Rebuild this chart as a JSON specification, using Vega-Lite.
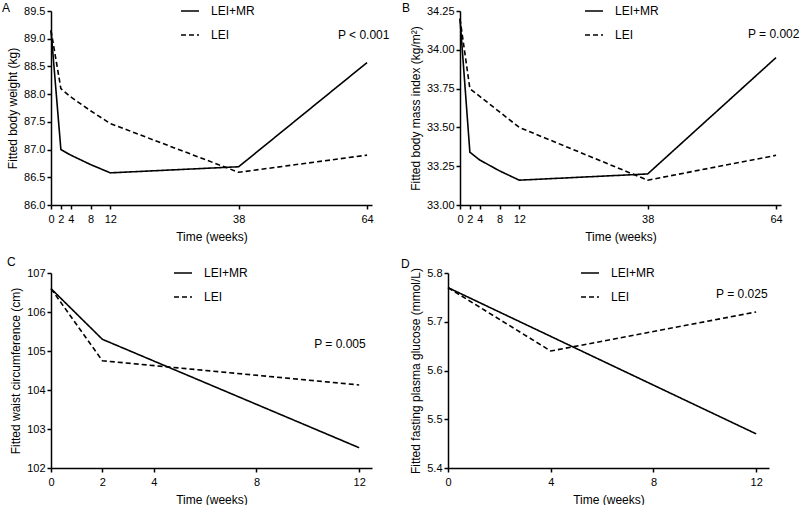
{
  "$schema": "https://vega.github.io/schema/vega-lite/v6.json",
  "padding": {"left": 2, "top": 1, "right": 5, "bottom": 2},
  "background": "white",
  "datasets": {
    "a": [
      {"group": "LEI+MR", "week": 0, "value": 89.15},
      {"group": "LEI+MR", "week": 2, "value": 87.0},
      {"group": "LEI+MR", "week": 4, "value": 86.9},
      {"group": "LEI+MR", "week": 8, "value": 86.73},
      {"group": "LEI+MR", "week": 12, "value": 86.58},
      {"group": "LEI+MR", "week": 38, "value": 86.69},
      {"group": "LEI+MR", "week": 64, "value": 88.57},
      {"group": "LEI", "week": 0, "value": 89.15},
      {"group": "LEI", "week": 2, "value": 88.1},
      {"group": "LEI", "week": 4, "value": 87.95},
      {"group": "LEI", "week": 8, "value": 87.7},
      {"group": "LEI", "week": 12, "value": 87.47},
      {"group": "LEI", "week": 38, "value": 86.59},
      {"group": "LEI", "week": 64, "value": 86.9}
    ],
    "b": [
      {"group": "LEI+MR", "week": 0, "value": 34.2},
      {"group": "LEI+MR", "week": 2, "value": 33.34},
      {"group": "LEI+MR", "week": 4, "value": 33.29},
      {"group": "LEI+MR", "week": 8, "value": 33.22},
      {"group": "LEI+MR", "week": 12, "value": 33.16},
      {"group": "LEI+MR", "week": 38, "value": 33.2},
      {"group": "LEI+MR", "week": 64, "value": 33.95},
      {"group": "LEI", "week": 0, "value": 34.2},
      {"group": "LEI", "week": 2, "value": 33.75},
      {"group": "LEI", "week": 4, "value": 33.7},
      {"group": "LEI", "week": 8, "value": 33.6},
      {"group": "LEI", "week": 12, "value": 33.5},
      {"group": "LEI", "week": 38, "value": 33.16},
      {"group": "LEI", "week": 64, "value": 33.32}
    ],
    "c": [
      {"group": "LEI+MR", "week": 0, "value": 106.6},
      {"group": "LEI+MR", "week": 2, "value": 105.3},
      {"group": "LEI+MR", "week": 12, "value": 102.52},
      {"group": "LEI", "week": 0, "value": 106.6},
      {"group": "LEI", "week": 2, "value": 104.75},
      {"group": "LEI", "week": 12, "value": 104.13}
    ],
    "d": [
      {"group": "LEI+MR", "week": 0, "value": 5.77},
      {"group": "LEI+MR", "week": 12, "value": 5.47},
      {"group": "LEI", "week": 0, "value": 5.77},
      {"group": "LEI", "week": 4, "value": 5.64},
      {"group": "LEI", "week": 12, "value": 5.72}
    ]
  },
  "config": {
    "font": "Liberation Sans",
    "view": {"stroke": null},
    "axis": {
      "grid": false,
      "domainColor": "black",
      "domainWidth": 1.5,
      "tickColor": "black",
      "tickWidth": 1.5,
      "tickSize": 4,
      "labelColor": "black",
      "labelFontSize": 11,
      "labelPadding": 2,
      "titleColor": "black",
      "titleFontSize": 12,
      "titleFontWeight": "normal",
      "titlePadding": 4,
      "labelFlush": false,
      "labelOverlap": false
    },
    "axisX": {"labelPadding": 4, "titlePadding": 7},
    "legend": {
      "labelFontSize": 12,
      "labelColor": "black",
      "symbolSize": 324,
      "symbolStrokeColor": "black",
      "symbolStrokeWidth": 1.5,
      "symbolType": "stroke",
      "labelOffset": 11,
      "rowPadding": 8,
      "padding": 0
    },
    "title": {"fontSize": 12, "fontWeight": "normal", "color": "black", "anchor": "start", "frame": "group"}
  },
  "resolve": {"scale": {"strokeDash": "independent"}, "legend": {"strokeDash": "independent"}},
  "spacing": 14,
  "vconcat": [
    {
      "spacing": 12,
      "resolve": {"scale": {"strokeDash": "independent"}, "legend": {"strokeDash": "independent"}},
      "hconcat": [
        {
          "width": 321, "height": 194,
          "title": {"text": "A", "dx": -49, "offset": -14},
          "encoding": {
            "x": {"field": "week", "type": "quantitative", "scale": {"domain": [0, 65], "nice": false}, "axis": {"values": [0, 2, 4, 8, 12, 38, 64], "title": "Time (weeks)"}},
            "y": {"field": "value", "type": "quantitative", "scale": {"domain": [86, 89.5], "nice": false, "zero": false}, "axis": {"values": [86, 86.5, 87, 87.5, 88, 88.5, 89, 89.5], "format": ".1f", "title": "Fitted body weight (kg)"}}
          },
          "layer": [
            {
              "data": {"name": "a"},
              "mark": {"type": "line", "color": "black", "strokeWidth": 1.6},
              "encoding": {
                "strokeDash": {"field": "group", "type": "nominal", "scale": {"domain": ["LEI+MR", "LEI"], "range": [[1, 0], [5, 3]]}, "legend": {"orient": "none", "legendX": 129, "legendY": -10, "title": null}}
              }
            },
            {
              "data": {"values": [{"week": 58.1, "value": 89.07, "label": "P < 0.001"}]},
              "mark": {"type": "text", "align": "left", "baseline": "middle", "fontSize": 12, "color": "black"},
              "encoding": {"text": {"field": "label"}}
            }
          ]
        },
        {
          "width": 321, "height": 194,
          "title": {"text": "B", "dx": -58, "offset": -14},
          "encoding": {
            "x": {"field": "week", "type": "quantitative", "scale": {"domain": [0, 65], "nice": false}, "axis": {"values": [0, 2, 4, 8, 12, 38, 64], "title": "Time (weeks)"}},
            "y": {"field": "value", "type": "quantitative", "scale": {"domain": [33, 34.25], "nice": false, "zero": false}, "axis": {"values": [33, 33.25, 33.5, 33.75, 34, 34.25], "format": ".2f", "title": "Fitted body mass index (kg/m²)"}}
          },
          "layer": [
            {
              "data": {"name": "b"},
              "mark": {"type": "line", "color": "black", "strokeWidth": 1.6},
              "encoding": {
                "strokeDash": {"field": "group", "type": "nominal", "scale": {"domain": ["LEI+MR", "LEI"], "range": [[1, 0], [5, 3]]}, "legend": {"orient": "none", "legendX": 124, "legendY": -10, "title": null}}
              }
            },
            {
              "data": {"values": [{"week": 58.3, "value": 34.1, "label": "P = 0.002"}]},
              "mark": {"type": "text", "align": "left", "baseline": "middle", "fontSize": 12, "color": "black"},
              "encoding": {"text": {"field": "label"}}
            }
          ]
        }
      ]
    },
    {
      "spacing": 29,
      "resolve": {"scale": {"strokeDash": "independent"}, "legend": {"strokeDash": "independent"}},
      "hconcat": [
        {
          "width": 321, "height": 195,
          "title": {"text": "C", "dx": -44, "offset": -6},
          "encoding": {
            "x": {"field": "week", "type": "quantitative", "scale": {"domain": [0, 12.5], "nice": false}, "axis": {"values": [0, 2, 4, 8, 12], "title": "Time (weeks)"}},
            "y": {"field": "value", "type": "quantitative", "scale": {"domain": [102, 107], "nice": false, "zero": false}, "axis": {"values": [102, 103, 104, 105, 106, 107], "format": "d", "title": "Fitted waist circumference (cm)"}}
          },
          "layer": [
            {
              "data": {"name": "c"},
              "mark": {"type": "line", "color": "black", "strokeWidth": 1.6},
              "encoding": {
                "strokeDash": {"field": "group", "type": "nominal", "scale": {"domain": ["LEI+MR", "LEI"], "range": [[1, 0], [5, 3]]}, "legend": {"orient": "none", "legendX": 122, "legendY": -10, "title": null}}
              }
            },
            {
              "data": {"values": [{"week": 10.25, "value": 105.18, "label": "P = 0.005"}]},
              "mark": {"type": "text", "align": "left", "baseline": "middle", "fontSize": 12, "color": "black"},
              "encoding": {"text": {"field": "label"}}
            }
          ]
        },
        {
          "width": 321, "height": 195,
          "title": {"text": "D", "dx": -47, "offset": -8},
          "encoding": {
            "x": {"field": "week", "type": "quantitative", "scale": {"domain": [0, 12.5], "nice": false}, "axis": {"values": [0, 4, 8, 12], "title": "Time (weeks)"}},
            "y": {"field": "value", "type": "quantitative", "scale": {"domain": [5.4, 5.8], "nice": false, "zero": false}, "axis": {"values": [5.4, 5.5, 5.6, 5.7, 5.8], "format": ".1f", "title": "Fitted fasting plasma glucose (mmol/L)"}}
          },
          "layer": [
            {
              "data": {"name": "d"},
              "mark": {"type": "line", "color": "black", "strokeWidth": 1.6},
              "encoding": {
                "strokeDash": {"field": "group", "type": "nominal", "scale": {"domain": ["LEI+MR", "LEI"], "range": [[1, 0], [5, 3]]}, "legend": {"orient": "none", "legendX": 132, "legendY": -10, "title": null}}
              }
            },
            {
              "data": {"values": [{"week": 10.44, "value": 5.757, "label": "P = 0.025"}]},
              "mark": {"type": "text", "align": "left", "baseline": "middle", "fontSize": 12, "color": "black"},
              "encoding": {"text": {"field": "label"}}
            }
          ]
        }
      ]
    }
  ]
}
